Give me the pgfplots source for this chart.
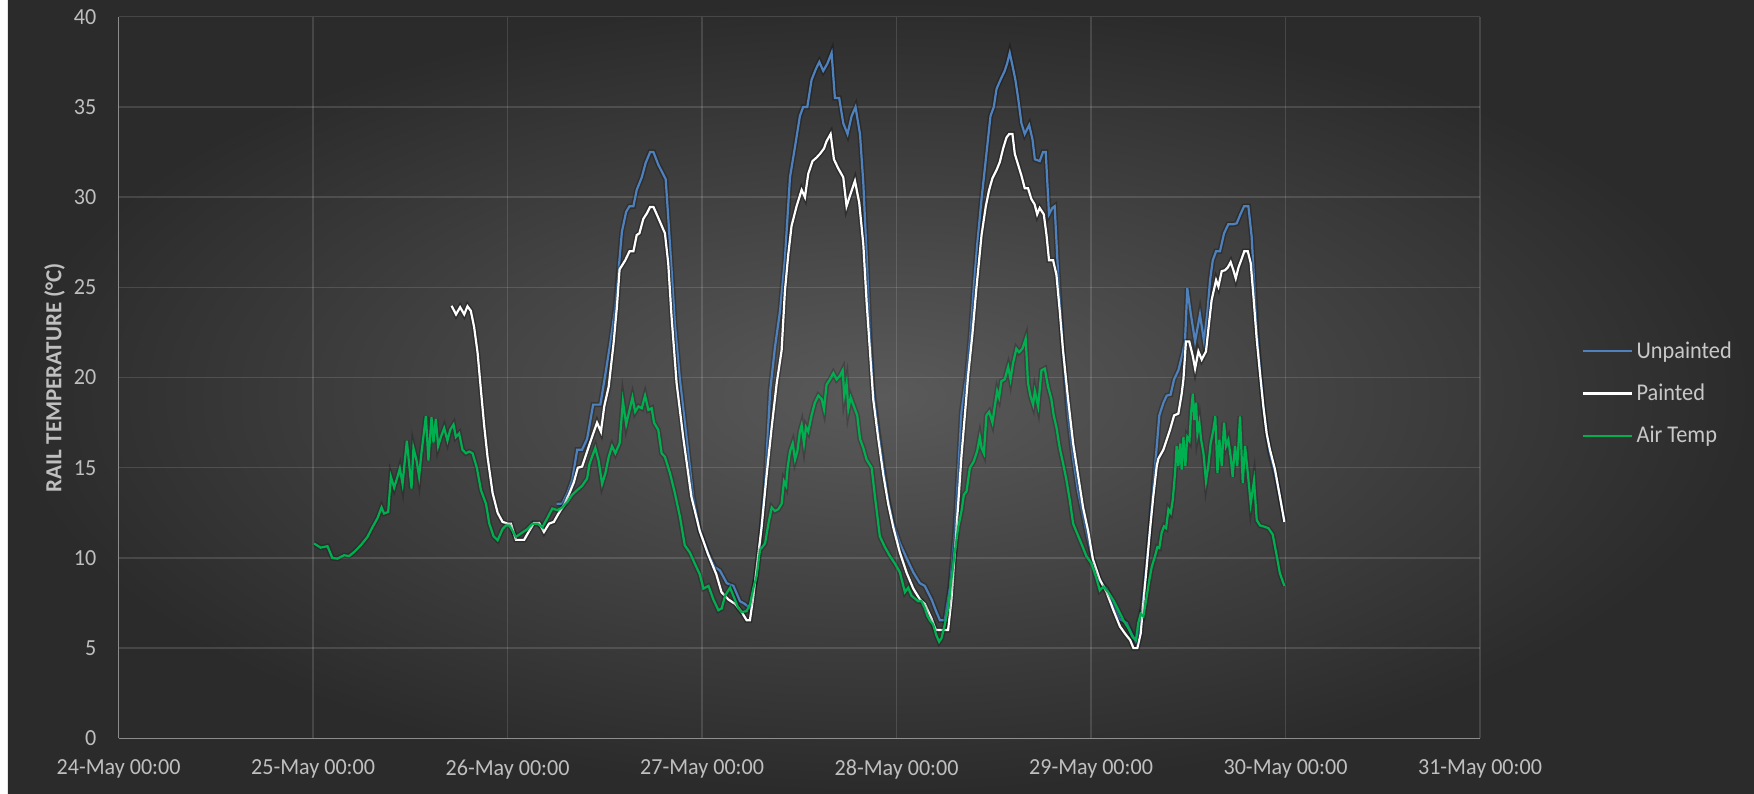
\documentclass[border=0pt]{standalone}
\usepackage{pgfplots}
\pgfplotsset{compat=1.18}
\usepackage{pgfplotstable}
\usepackage{fontspec}
\setmainfont{Carlito}
\newfontfamily\tickfont[FakeStretch=0.96]{Carlito}
\newfontfamily\legfont[FakeStretch=0.93]{Carlito}
\newfontfamily\labfont[FakeStretch=1.0]{Carlito}
\definecolor{bgin}{HTML}{5A5A5A}
\definecolor{bgout}{HTML}{2B2B2B}
\definecolor{unp}{HTML}{4F81BD}
\definecolor{air}{HTML}{00B050}
\definecolor{txt}{HTML}{BFBFBF}
\definecolor{legtxt}{HTML}{C8C8C8}

\pgfplotstableread{
d v
2.252 13.0
2.281 13.0
2.307 13.57
2.332 14.3
2.358 16.0
2.383 16.0
2.409 16.6
2.440 18.5
2.477 18.5
2.503 20.2
2.528 21.9
2.554 23.9
2.571 26.0
2.588 28.1
2.610 29.2
2.627 29.5
2.647 29.5
2.664 30.4
2.690 31.1
2.710 31.9
2.733 32.5
2.750 32.5
2.775 31.8
2.813 31.0
2.826 28.9
2.843 26.0
2.860 23.0
2.886 19.9
2.920 16.7
2.954 13.4
2.988 11.5
3.030 10.3
3.065 9.5
3.092 9.3
3.127 8.6
3.161 8.45
3.195 7.6
3.220 7.45
3.247 7.2
3.272 8.6
3.298 10.8
3.324 14.1
3.350 19.25
3.375 21.7
3.401 23.7
3.426 26.6
3.452 31.1
3.478 32.8
3.503 34.5
3.520 35.0
3.541 35.0
3.563 36.5
3.585 37.1
3.603 37.5
3.623 37.0
3.644 37.4
3.666 38.0
3.683 35.5
3.705 35.5
3.726 34.1
3.748 33.5
3.769 34.5
3.789 35.0
3.812 33.5
3.829 30.8
3.846 26.8
3.863 22.4
3.880 19.25
3.906 17.0
3.932 15.0
3.957 13.2
3.983 11.9
4.017 10.8
4.051 10.0
4.086 9.2
4.120 8.6
4.145 8.45
4.180 7.7
4.205 7.0
4.223 6.55
4.248 6.55
4.274 8.35
4.300 11.5
4.317 14.8
4.334 18.1
4.360 20.1
4.380 22.4
4.397 25.0
4.414 27.3
4.437 29.9
4.462 32.4
4.483 34.5
4.500 35.0
4.514 36.0
4.534 36.5
4.556 37.0
4.568 37.4
4.582 38.0
4.596 37.3
4.611 36.5
4.625 35.5
4.642 34.1
4.659 33.5
4.682 34.0
4.699 33.2
4.711 32.1
4.736 32.0
4.753 32.5
4.767 32.5
4.784 29.05
4.801 29.4
4.813 29.5
4.830 25.9
4.856 21.5
4.882 17.9
4.908 15.5
4.933 13.7
4.959 12.35
4.985 11.0
5.010 9.9
5.045 8.7
5.080 8.3
5.115 7.4
5.149 6.6
5.183 6.4
5.209 5.8
5.231 5.35
5.252 6.2
5.269 7.85
5.286 9.7
5.303 11.55
5.320 13.95
5.338 16.2
5.351 17.9
5.372 18.6
5.389 19.0
5.409 19.05
5.427 19.9
5.449 20.4
5.471 21.35
5.483 22.0
5.495 24.95
5.512 23.6
5.535 22.0
5.560 23.5
5.581 22.0
5.598 23.6
5.612 25.4
5.626 26.5
5.643 27.0
5.663 27.0
5.684 28.0
5.706 28.5
5.732 28.5
5.749 28.55
5.766 29.0
5.787 29.5
5.809 29.5
5.826 27.8
5.838 25.4
5.852 22.6
5.869 20.4
5.886 18.4
5.903 16.9
5.920 15.8
5.946 14.7
5.971 13.4
5.994 12.1
}\unpainted

\pgfplotstableread{
d v
1.712 23.98
1.735 23.5
1.756 23.9
1.777 23.5
1.794 23.95
1.811 23.7
1.828 22.8
1.846 21.35
1.863 19.3
1.880 17.3
1.897 15.6
1.923 13.6
1.949 12.5
1.974 12.0
2.000 11.9
2.017 11.9
2.043 11.0
2.085 11.0
2.111 11.5
2.136 11.94
2.162 11.94
2.187 11.44
2.213 11.9
2.238 12.0
2.264 12.5
2.289 12.9
2.315 13.5
2.341 14.2
2.361 15.0
2.383 15.06
2.409 15.9
2.434 16.7
2.460 17.5
2.480 17.0
2.497 18.4
2.520 19.5
2.545 21.9
2.562 23.9
2.576 26.0
2.605 26.5
2.627 27.0
2.647 27.0
2.664 27.9
2.678 28.0
2.698 28.8
2.716 29.1
2.733 29.46
2.750 29.46
2.775 28.85
2.809 28.0
2.826 26.35
2.843 23.4
2.869 19.7
2.903 16.7
2.945 13.4
2.988 11.5
3.031 10.2
3.073 9.1
3.100 8.1
3.135 7.7
3.170 7.45
3.204 7.0
3.229 6.55
3.246 6.55
3.264 7.9
3.281 9.45
3.306 11.7
3.332 14.6
3.358 17.25
3.384 19.7
3.409 21.5
3.426 24.8
3.443 26.8
3.460 28.4
3.486 29.5
3.512 30.4
3.529 30.0
3.546 31.3
3.568 32.0
3.589 32.2
3.606 32.4
3.627 32.7
3.640 33.1
3.661 33.5
3.678 32.1
3.700 31.6
3.726 31.1
3.743 29.5
3.764 30.2
3.786 30.9
3.808 29.7
3.829 27.4
3.846 24.2
3.863 21.5
3.880 18.8
3.906 16.6
3.932 14.6
3.957 13.0
3.983 11.7
4.017 10.3
4.051 9.2
4.086 8.3
4.120 7.7
4.145 7.45
4.179 6.65
4.202 6.0
4.265 6.0
4.282 7.7
4.300 10.35
4.317 13.0
4.334 15.7
4.351 17.9
4.368 20.1
4.390 22.4
4.411 25.0
4.437 27.9
4.459 29.5
4.476 30.4
4.493 31.05
4.514 31.5
4.531 31.95
4.548 32.7
4.565 33.3
4.579 33.5
4.596 33.5
4.608 32.4
4.625 31.8
4.642 31.2
4.659 30.5
4.676 30.5
4.693 29.9
4.710 29.6
4.723 29.05
4.736 29.4
4.757 29.05
4.771 27.9
4.784 26.5
4.805 26.5
4.822 25.7
4.839 23.7
4.856 21.5
4.882 18.8
4.908 16.35
4.933 14.6
4.959 12.8
4.985 11.5
5.010 9.9
5.045 8.8
5.080 8.1
5.115 7.1
5.149 6.2
5.175 5.8
5.201 5.45
5.218 5.0
5.238 5.0
5.255 5.8
5.269 7.5
5.286 9.5
5.303 11.55
5.320 13.4
5.338 15.1
5.346 15.5
5.372 16.0
5.389 16.55
5.406 17.1
5.427 17.9
5.449 18.0
5.466 19.1
5.475 19.9
5.488 22.0
5.505 22.0
5.523 21.2
5.535 20.5
5.552 21.45
5.569 21.0
5.591 21.45
5.603 22.65
5.620 24.3
5.643 25.4
5.655 25.05
5.672 25.9
5.689 25.95
5.703 26.1
5.718 26.4
5.732 25.95
5.744 25.5
5.758 26.1
5.775 26.6
5.788 27.0
5.806 27.0
5.821 26.35
5.835 24.5
5.852 22.1
5.869 20.2
5.886 18.4
5.903 16.9
5.920 16.0
5.946 14.9
5.971 13.4
5.994 12.0
}\painted

\pgfplotstableread{
d v
1.005 10.8
1.039 10.57
1.074 10.65
1.099 10.0
1.125 9.96
1.160 10.15
1.185 10.1
1.211 10.33
1.245 10.7
1.280 11.17
1.305 11.7
1.331 12.2
1.352 12.8
1.365 12.46
1.386 12.55
1.400 14.5
1.417 13.9
1.434 14.5
1.446 14.96
1.460 14.1
1.482 16.5
1.494 15.2
1.506 13.85
1.516 16.1
1.532 15.4
1.545 14.5
1.557 15.8
1.580 17.87
1.593 15.4
1.609 17.8
1.619 16.4
1.631 17.7
1.643 16.2
1.657 16.7
1.674 17.2
1.691 16.5
1.705 17.1
1.722 17.4
1.734 16.7
1.751 16.9
1.768 16.0
1.786 15.8
1.803 15.9
1.820 15.8
1.842 15.0
1.863 13.76
1.889 13.0
1.906 11.9
1.928 11.2
1.949 10.98
1.974 11.6
1.991 11.8
2.009 11.8
2.043 11.17
2.068 11.35
2.102 11.6
2.128 11.9
2.153 11.9
2.179 11.7
2.204 12.2
2.230 12.74
2.256 12.65
2.281 12.8
2.307 13.1
2.332 13.5
2.358 13.76
2.383 14.0
2.409 14.4
2.421 15.2
2.434 15.6
2.451 16.1
2.468 15.4
2.486 14.1
2.503 14.7
2.520 15.6
2.537 16.2
2.554 15.8
2.576 16.35
2.593 18.7
2.610 17.4
2.627 18.2
2.642 18.9
2.656 18.1
2.673 18.4
2.690 18.3
2.707 19.0
2.724 18.2
2.741 18.3
2.753 17.5
2.775 17.1
2.792 15.8
2.809 15.6
2.835 14.7
2.860 13.6
2.886 12.3
2.911 10.7
2.937 10.3
2.962 9.7
2.988 9.1
3.007 8.3
3.033 8.45
3.058 7.7
3.084 7.1
3.101 7.2
3.118 7.9
3.144 8.35
3.161 7.9
3.187 7.2
3.204 7.0
3.229 7.05
3.247 7.45
3.264 8.35
3.281 9.0
3.298 10.45
3.324 10.8
3.341 11.9
3.358 12.8
3.375 12.6
3.392 12.7
3.409 13.0
3.421 14.25
3.432 14.0
3.440 15.0
3.452 15.9
3.466 16.35
3.478 15.45
3.490 15.9
3.503 17.0
3.512 17.36
3.524 16.35
3.534 17.25
3.546 17.0
3.563 17.9
3.580 18.6
3.598 19.0
3.615 18.8
3.627 18.25
3.640 19.6
3.658 19.9
3.675 20.25
3.692 19.9
3.709 20.1
3.723 20.4
3.731 19.0
3.743 19.7
3.752 18.25
3.764 18.9
3.781 18.4
3.798 17.9
3.812 16.6
3.829 16.1
3.846 15.45
3.872 15.0
3.889 13.4
3.914 11.2
3.940 10.6
3.966 10.1
3.991 9.7
4.017 9.2
4.043 8.1
4.060 8.35
4.077 7.9
4.111 7.6
4.128 7.6
4.146 7.2
4.158 6.8
4.171 6.55
4.188 6.3
4.205 5.7
4.219 5.35
4.231 5.55
4.248 6.3
4.265 7.2
4.282 8.8
4.300 10.35
4.317 11.7
4.334 12.6
4.346 13.5
4.360 13.7
4.377 15.0
4.397 15.35
4.414 15.9
4.428 16.7
4.437 16.1
4.449 15.8
4.462 17.9
4.476 18.1
4.493 17.5
4.505 18.4
4.517 19.25
4.527 18.9
4.539 19.8
4.556 19.9
4.574 20.6
4.586 19.9
4.599 20.8
4.616 21.6
4.630 21.4
4.647 21.6
4.664 22.15
4.676 19.7
4.688 19.0
4.702 18.5
4.711 19.25
4.728 18.4
4.745 20.4
4.762 20.5
4.779 19.5
4.796 18.8
4.808 17.9
4.822 17.25
4.839 16.1
4.856 15.25
4.873 14.35
4.890 13.25
4.908 11.9
4.925 11.45
4.950 10.8
4.976 10.1
5.002 9.7
5.027 8.9
5.045 8.2
5.063 8.4
5.089 8.1
5.115 7.65
5.141 7.1
5.166 6.55
5.192 6.1
5.214 5.6
5.231 5.45
5.243 6.4
5.255 6.9
5.269 6.75
5.286 7.85
5.300 8.8
5.312 9.5
5.329 10.1
5.341 10.6
5.351 10.55
5.363 11.4
5.375 11.75
5.386 11.65
5.398 12.7
5.410 12.5
5.420 13.2
5.432 14.7
5.440 16.2
5.449 15.1
5.458 16.35
5.466 14.9
5.475 16.7
5.485 15.1
5.495 16.7
5.506 16.5
5.514 18.0
5.523 19.1
5.531 17.65
5.540 18.6
5.547 16.9
5.557 17.5
5.566 16.55
5.578 15.8
5.591 14.25
5.603 15.1
5.615 16.35
5.629 17.1
5.639 17.85
5.650 14.7
5.660 16.55
5.672 15.1
5.684 17.5
5.694 16.2
5.706 16.55
5.718 15.6
5.728 14.5
5.740 16.2
5.752 15.1
5.766 17.85
5.780 14.15
5.792 16.2
5.806 14.7
5.821 13.0
5.838 14.3
5.852 12.1
5.869 11.8
5.886 11.75
5.912 11.65
5.934 11.3
5.955 10.1
5.971 9.15
5.994 8.45
}\airtemp

\begin{document}
\begin{tikzpicture}
\path[use as bounding box] (-59.3pt,-27.35pt) rectangle (817.7pt,369.15pt);
\shade[inner color=bgin, outer color=bgout] (-55.3pt,-27.35pt) rectangle (817.7pt,369.15pt);
\begin{axis}[
  at={(0pt,0pt)}, anchor=south west,
  scale only axis, width=680.7pt, height=360.75pt,
  xmin=0, xmax=7, ymin=0, ymax=40,
  xtick={0,1,2,3,4,5,6,7},
  xticklabels={24-May 00:00,25-May 00:00,26-May 00:00,27-May 00:00,28-May 00:00,29-May 00:00,30-May 00:00,31-May 00:00},
  ytick={0,5,...,40},
  /pgf/number format/assume math mode=true,
  major tick length=0pt,
  axis lines*=left,
  axis line style={draw=white, draw opacity=0.38, line width=0.8pt},
  grid=major,
  major grid style={draw=white, draw opacity=0.13, line width=0.7pt},
  tick label style={text=txt, font=\tickfont\fontsize{11.5pt}{13pt}\selectfont},
  xticklabel style={anchor=north, inner sep=0pt, yshift=-10.5pt},
  yticklabel style={anchor=east, inner sep=0pt, xshift=-11pt},
  ylabel={RAIL TEMPERATURE (°C)},
  ylabel style={at={(axis description cs:-0.047,0.5)}, anchor=center, text=txt, font=\labfont\bfseries\fontsize{11.5pt}{13pt}\selectfont},
  legend style={at={(axis description cs:1.0749,0.478)}, anchor=west, draw=none, fill=none,
    inner sep=0pt, row sep=8.3pt, text=legtxt, font=\legfont\fontsize{12pt}{14pt}\selectfont,
    nodes={inner sep=1.5pt}},
  legend cell align=left,
  legend image code/.code={\draw[#1] (0pt,0pt) -- (24.5pt,0pt);},
  clip=false,
]
\addplot[black, draw opacity=0.25, line width=2.6pt, forget plot] table[x=d,y=v] {\unpainted};
\addplot[unp, line width=1.1pt] table[x=d,y=v] {\unpainted};
\addlegendentry{Unpainted}
\addplot[black, draw opacity=0.3, line width=2.6pt, forget plot] table[x=d,y=v] {\painted};
\addplot[white, line width=1.1pt] table[x=d,y=v] {\painted};
\addlegendentry{Painted}
\addplot[black, draw opacity=0.2, line width=2.6pt, forget plot] table[x=d,y=v] {\airtemp};
\addplot[air, line width=1.1pt] table[x=d,y=v] {\airtemp};
\addlegendentry{Air Temp}
\end{axis}
\end{tikzpicture}
\end{document}
